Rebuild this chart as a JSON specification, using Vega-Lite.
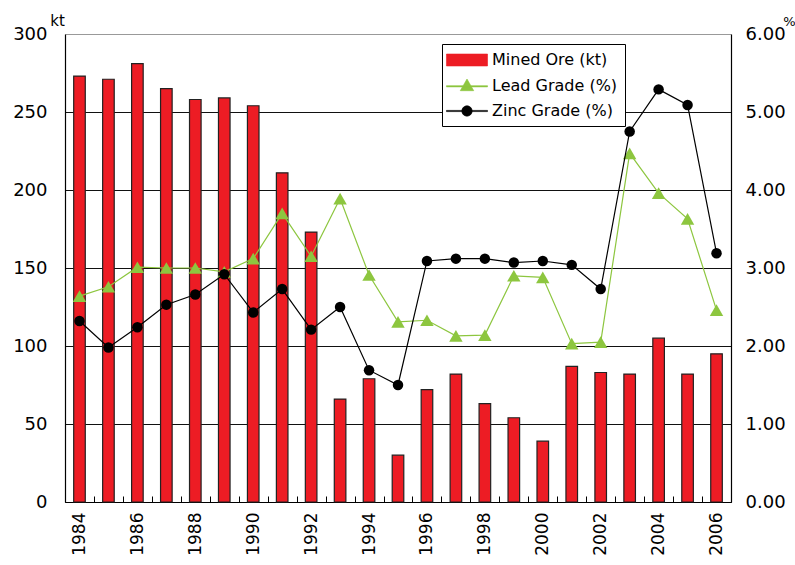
{
  "$schema": "https://vega.github.io/schema/vega-lite/v6.json",
  "width": 666,
  "height": 468,
  "autosize": "none",
  "padding": {"left": 65, "top": 34, "right": 64, "bottom": 63},
  "background": "white",
  "config": {
    "view": {"stroke": null},
    "font": "DejaVu Sans",
    "axis": {"labelFont": "DejaVu Sans", "labelColor": "black", "titleFont": "DejaVu Sans", "titleColor": "black", "titleFontWeight": "normal", "domainColor": "black", "tickColor": "black"},
    "legend": {
      "orient": "none",
      "legendX": 377,
      "legendY": 10,
      "fillColor": "white",
      "strokeColor": "black",
      "padding": 7,
      "labelFont": "DejaVu Sans",
      "labelFontSize": 16,
      "labelColor": "black",
      "symbolSize": 300,
      "symbolOffset": 9,
      "labelOffset": 16,
      "rowPadding": 8.5,
      "symbolStrokeWidth": 0.6,
      "symbolOpacity": 1
    }
  },
  "data": {
    "values": [
      {"year": 1984, "ore": 273, "lead": 2.64, "zinc": 2.32},
      {"year": 1985, "ore": 271, "lead": 2.76, "zinc": 1.98},
      {"year": 1986, "ore": 281, "lead": 3.01, "zinc": 2.24},
      {"year": 1987, "ore": 265, "lead": 3.00, "zinc": 2.53},
      {"year": 1988, "ore": 258, "lead": 3.00, "zinc": 2.66},
      {"year": 1989, "ore": 259, "lead": 2.95, "zinc": 2.92},
      {"year": 1990, "ore": 254, "lead": 3.12, "zinc": 2.43},
      {"year": 1991, "ore": 211, "lead": 3.70, "zinc": 2.73},
      {"year": 1992, "ore": 173, "lead": 3.15, "zinc": 2.21},
      {"year": 1993, "ore": 66, "lead": 3.89, "zinc": 2.50},
      {"year": 1994, "ore": 79, "lead": 2.91, "zinc": 1.69},
      {"year": 1995, "ore": 30, "lead": 2.31, "zinc": 1.50},
      {"year": 1996, "ore": 72, "lead": 2.33, "zinc": 3.09},
      {"year": 1997, "ore": 82, "lead": 2.13, "zinc": 3.12},
      {"year": 1998, "ore": 63, "lead": 2.14, "zinc": 3.12},
      {"year": 1999, "ore": 54, "lead": 2.90, "zinc": 3.07},
      {"year": 2000, "ore": 39, "lead": 2.88, "zinc": 3.09},
      {"year": 2001, "ore": 87, "lead": 2.03, "zinc": 3.04},
      {"year": 2002, "ore": 83, "lead": 2.05, "zinc": 2.73},
      {"year": 2003, "ore": 82, "lead": 4.47, "zinc": 4.75},
      {"year": 2004, "ore": 105, "lead": 3.96, "zinc": 5.29},
      {"year": 2005, "ore": 82, "lead": 3.63, "zinc": 5.09},
      {"year": 2006, "ore": 95, "lead": 2.46, "zinc": 3.19}
    ]
  },
  "encoding": {
    "x": {
      "field": "year",
      "type": "ordinal",
      "scale": {"paddingInner": 0, "paddingOuter": 0},
      "axis": {
        "title": null,
        "labelAngle": 270,
        "labelFontSize": 17,
        "labelPadding": 16,
        "labelExpr": "datum.value % 2 == 0 ? datum.label : ''",
        "ticks": true,
        "tickBand": "extent",
        "tickSize": -6,
        "domainWidth": 1.2
      }
    }
  },
  "layer": [
    {
      "mark": {"type": "bar", "stroke": "#222222", "strokeWidth": 1.2, "width": {"band": 0.4}},
      "encoding": {
        "y": {
          "field": "ore",
          "type": "quantitative",
          "scale": {"domain": [0, 300], "nice": false},
          "axis": {
            "title": "kt",
            "titleAngle": 0,
            "titleFontSize": 15,
            "titleAlign": "center",
            "titleBaseline": "alphabetic",
            "titleX": -8,
            "titleY": -9,
            "values": [0, 50, 100, 150, 200, 250, 300],
            "labelFontSize": 18,
            "labelPadding": 18,
            "ticks": false,
            "domainWidth": 1.2,
            "grid": true,
            "gridColor": {"condition": {"test": "datum.value === 300", "value": "#999999"}, "value": "#111111"},
            "gridWidth": 1.2
          }
        },
        "color": {
          "datum": "Mined Ore (kt)",
          "scale": {
            "domain": ["Mined Ore (kt)", "Lead Grade (%)", "Zinc Grade (%)"],
            "range": ["#ED1C24", "#8DC63F", "#000000"]
          },
          "legend": {"title": null, "orient": "none", "legendX": 377, "legendY": 10}
        }
      }
    },
    {
      "layer": [
        {
          "mark": {"type": "line", "strokeWidth": 1.2},
          "encoding": {
            "y": {
              "field": "lead",
              "type": "quantitative",
              "scale": {"domain": [0, 6], "nice": false},
              "axis": {
                "orient": "right",
                "title": "%",
                "titleAngle": 0,
                "titleFontSize": 13,
                "titleAlign": "center",
                "titleBaseline": "alphabetic",
                "titleX": 58,
                "titleY": -9,
                "values": [0, 1, 2, 3, 4, 5, 6],
                "format": ".2f",
                "labelFontSize": 18,
                "labelPadding": 14,
                "ticks": false,
                "grid": false,
                "domainWidth": 1.2
              }
            },
            "color": {"datum": "Lead Grade (%)"}
          }
        },
        {
          "mark": {"type": "point", "filled": true, "size": 180, "opacity": 1},
          "encoding": {
            "y": {"field": "lead", "type": "quantitative"},
            "color": {"datum": "Lead Grade (%)"},
            "shape": {
              "condition": {"test": "true", "value": "triangle-up"},
              "datum": "Lead Grade (%)",
              "scale": {
                "domain": ["Mined Ore (kt)", "Lead Grade (%)", "Zinc Grade (%)"],
                "range": [
                  "M-2.37,-0.69H2.37V0.69H-2.37Z",
                  "M-2.37,0.02H2.37V0.16H-2.37ZM-0.78,0.6L0,-0.75L0.78,0.6Z",
                  "M-2.37,-0.07H2.37V0.07H-2.37ZM-0.6,0A0.6,0.6 0 1,1 0.6,0A0.6,0.6 0 1,1 -0.6,0Z"
                ]
              },
              "legend": {"title": null, "orient": "none", "legendX": 377, "legendY": 10}
            }
          }
        },
        {
          "mark": {"type": "line", "strokeWidth": 1.2},
          "encoding": {
            "y": {"field": "zinc", "type": "quantitative"},
            "color": {"datum": "Zinc Grade (%)"}
          }
        },
        {
          "mark": {"type": "point", "filled": true, "size": 110, "opacity": 1},
          "encoding": {
            "y": {"field": "zinc", "type": "quantitative"},
            "color": {"datum": "Zinc Grade (%)"},
            "shape": {
              "condition": {"test": "true", "value": "circle"},
              "datum": "Zinc Grade (%)"
            }
          }
        }
      ]
    }
  ],
  "resolve": {"scale": {"y": "independent"}}
}
